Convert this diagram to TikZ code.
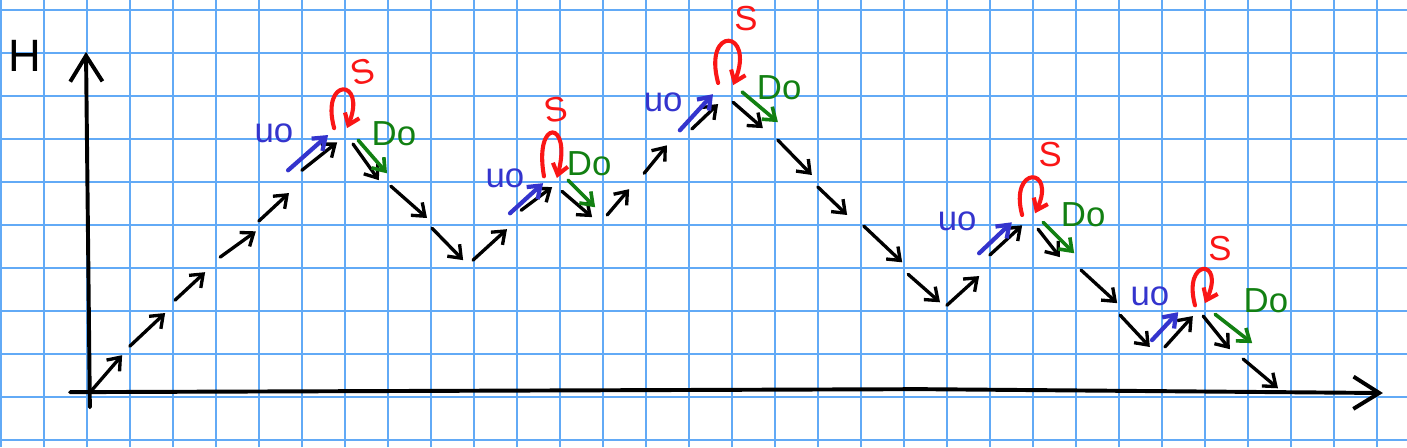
\documentclass[tikz,border=0pt]{standalone}
\usepackage{fontspec}
\setmainfont{Liberation Sans}
\usepackage{xcolor}
\usepackage{tikz}
\usetikzlibrary{arrows.meta}
\definecolor{gridblue}{RGB}{98,170,246}
\definecolor{inkblue}{RGB}{52,52,205}
\definecolor{inkred}{RGB}{250,22,22}
\definecolor{inkgreen}{RGB}{18,128,18}
\tikzset{
  gridline/.style={draw=gridblue,line width=1.1pt},
  axisline/.style={line width=2.6pt,line cap=round,-{Straight Barb[length=6mm,width=7.5mm]}},
  walk/.style={-{Straight Barb[length=2.6mm,width=4mm]},line width=2.2pt,line cap=round},
  handtext/.style={font=\fontsize{23}{25}\selectfont,inner sep=0pt}
}

\begin{document}
\begin{tikzpicture}[
  upmove/.style={-{Straight Barb[length=2.6mm,width=3.8mm]},line width=2.8pt,draw=inkblue,line cap=round},
  downmove/.style={-{Straight Barb[length=2.6mm,width=3.8mm]},line width=2.4pt,draw=inkgreen,line cap=round},
  stayloop/.style={-{Straight Barb[length=2.4mm,width=3.6mm]},line width=2.7pt,draw=inkred,line cap=round},
  ulabel/.style={handtext,text=inkblue},
  dlabel/.style={handtext,text=inkgreen},
  slabel/.style={handtext,text=inkred},
  axislabel/.style={font=\fontsize{30}{32}\selectfont,inner sep=0pt}
]

  \fill[white] (0,0) rectangle (32.72,10.40);
  \useasboundingbox (0,0) rectangle (32.72,10.40);

  % squared paper
  \draw[gridline,xshift=0.02cm,yshift=0.16cm] (-0.02,-0.16) grid (32.70,10.24);

  % axes
  \coordinate (yFoot) at (2.09,0.93);
  \coordinate (yTop)  at (2.00,9.19);
  \coordinate (xFoot) at (1.63,1.28);
  \coordinate (xMid)  at (21.40,1.35);
  \coordinate (xTip)  at (32.16,1.26);

  \draw[axisline] (yFoot)--(yTop);
  \draw[axisline] (xFoot)--(xMid)--(xTip);
  \node[axislabel] (hLabel) at (0.58,9.09) {H};

  % black walk
  \coordinate (a1)  at (2.14,1.33);  \coordinate (b1)  at (2.84,2.14);
  \coordinate (a2)  at (3.02,2.35);  \coordinate (b2)  at (3.84,3.12);
  \coordinate (a3)  at (4.07,3.42);  \coordinate (b3)  at (4.77,4.07);
  \coordinate (a4)  at (5.12,4.42);  \coordinate (b4)  at (5.95,5.02);
  \coordinate (a5)  at (6.02,5.26);  \coordinate (b5)  at (6.72,5.91);
  \coordinate (a6)  at (7.02,6.44);  \coordinate (b6)  at (7.84,7.09);
  \coordinate (a7)  at (8.21,7.05);  \coordinate (b7)  at (8.81,6.21);
  \coordinate (a8)  at (9.09,6.07);  \coordinate (b8)  at (9.93,5.33);
  \coordinate (a9)  at (10.05,5.09); \coordinate (b9)  at (10.77,4.35);
  \coordinate (a10) at (11.00,4.35); \coordinate (b10) at (11.79,5.07);
  \coordinate (a11) at (12.12,5.51); \coordinate (b11) at (12.84,6.05);
  \coordinate (a12) at (13.07,5.95); \coordinate (b12) at (13.77,5.35);
  \coordinate (a13) at (14.12,5.40); \coordinate (b13) at (14.63,6.00);
  \coordinate (a14) at (14.98,6.37); \coordinate (b14) at (15.51,7.02);
  \coordinate (a15) at (16.09,7.40); \coordinate (b15) at (16.70,7.98);
  \coordinate (a16) at (17.05,8.02); \coordinate (b16) at (17.74,7.42);
  \coordinate (a17) at (18.09,7.14); \coordinate (b17) at (18.88,6.33);
  \coordinate (a18) at (19.02,6.05); \coordinate (b18) at (19.70,5.40);
  \coordinate (a19) at (20.09,5.14); \coordinate (b19) at (20.98,4.30);
  \coordinate (a20) at (21.12,4.02); \coordinate (b20) at (21.86,3.37);
  \coordinate (a21) at (22.02,3.30); \coordinate (b21) at (22.77,3.98);
  \coordinate (a22) at (23.02,4.47); \coordinate (b22) at (23.77,5.16);
  \coordinate (a23) at (24.14,5.07); \coordinate (b23) at (24.65,4.42);
  \coordinate (a24) at (25.14,4.12); \coordinate (b24) at (25.98,3.35);
  \coordinate (a25) at (26.05,3.07); \coordinate (b25) at (26.74,2.33);
  \coordinate (a26) at (27.09,2.33); \coordinate (b26) at (27.74,3.05);
  \coordinate (a27) at (27.98,3.05); \coordinate (b27) at (28.60,2.28);
  \coordinate (a28) at (28.91,2.05); \coordinate (b28) at (29.72,1.37);

  \draw[walk] (a1)--(b1);   \draw[walk] (a2)--(b2);   \draw[walk] (a3)--(b3);
  \draw[walk] (a4)--(b4);   \draw[walk] (a5)--(b5);   \draw[walk] (a6)--(b6);
  \draw[walk] (a7)--(b7);   \draw[walk] (a8)--(b8);   \draw[walk] (a9)--(b9);
  \draw[walk] (a10)--(b10); \draw[walk] (a11)--(b11); \draw[walk] (a12)--(b12);
  \draw[walk] (a13)--(b13); \draw[walk] (a14)--(b14); \draw[walk] (a15)--(b15);
  \draw[walk] (a16)--(b16); \draw[walk] (a17)--(b17); \draw[walk] (a18)--(b18);
  \draw[walk] (a19)--(b19); \draw[walk] (a20)--(b20); \draw[walk] (a21)--(b21);
  \draw[walk] (a22)--(b22); \draw[walk] (a23)--(b23); \draw[walk] (a24)--(b24);
  \draw[walk] (a25)--(b25); \draw[walk] (a26)--(b26); \draw[walk] (a27)--(b27);
  \draw[walk] (a28)--(b28);

  % up moves
  \coordinate (uA1) at (6.70,6.44);  \coordinate (uB1) at (7.63,7.26);
  \coordinate (uA2) at (11.86,5.44); \coordinate (uB2) at (12.63,6.14);
  \coordinate (uA3) at (15.81,7.37); \coordinate (uB3) at (16.58,8.21);
  \coordinate (uA4) at (22.77,4.51); \coordinate (uB4) at (23.53,5.23);
  \coordinate (uA5) at (26.79,2.49); \coordinate (uB5) at (27.40,3.14);

  \draw[upmove] (uA1)--(uB1);
  \draw[upmove] (uA2)--(uB2);
  \draw[upmove] (uA3)--(uB3);
  \draw[upmove] (uA4)--(uB4);
  \draw[upmove] (uA5)--(uB5);

  \node[ulabel] (uOne)   at (6.37,7.30)  {uo};
  \node[ulabel] (uTwo)   at (11.74,6.26) {uo};
  \node[ulabel] (uThree) at (15.42,8.02) {uo};
  \node[ulabel] (uFour)  at (22.26,5.26) {uo};
  \node[ulabel] (uFive)  at (26.74,3.51) {uo};

  % stay loops
  \coordinate (sA1) at (7.77,7.42);  \coordinate (sB1) at (8.07,7.42);
  \coordinate (sA2) at (12.65,6.30); \coordinate (sB2) at (12.95,6.26);
  \coordinate (sA3) at (16.70,8.47); \coordinate (sB3) at (17.05,8.42);
  \coordinate (sA4) at (23.77,5.40); \coordinate (sB4) at (24.07,5.44);
  \coordinate (sA5) at (27.79,3.30); \coordinate (sB5) at (28.02,3.35);

  \draw[stayloop] (sA1) to[out=105,in=68,distance=1.25cm] (sB1);
  \draw[stayloop] (sA2) to[out=100,in=75,distance=1.4cm] (sB2);
  \draw[stayloop] (sA3) to[out=105,in=68,distance=1.4cm] (sB3);
  \draw[stayloop] (sA4) to[out=105,in=65,distance=1.2cm] (sB4);
  \draw[stayloop] (sA5) to[out=105,in=65,distance=1.15cm] (sB5);

  \node[slabel,rotate=15] (sOne) at (8.44,8.72) {S};
  \node[slabel,rotate=10] (sTwo) at (12.93,7.84) {S};
  \node[slabel] (sThree) at (17.35,9.98) {S};
  \node[slabel] (sFour)  at (24.42,6.81) {S};
  \node[slabel] (sFive)  at (28.37,4.63) {S};

  % down moves
  \coordinate (dA1) at (8.33,7.14);  \coordinate (dB1) at (9.00,6.37);
  \coordinate (dA2) at (13.21,6.21); \coordinate (dB2) at (13.84,5.58);
  \coordinate (dA3) at (17.26,8.26); \coordinate (dB3) at (18.09,7.56);
  \coordinate (dA4) at (24.26,5.23); \coordinate (dB4) at (24.98,4.51);
  \coordinate (dA5) at (28.26,3.09); \coordinate (dB5) at (29.12,2.42);

  \draw[downmove] (dA1)--(dB1);
  \draw[downmove] (dA2)--(dB2);
  \draw[downmove] (dA3)--(dB3);
  \draw[downmove] (dA4)--(dB4);
  \draw[downmove] (dA5)--(dB5);

  \node[dlabel] (dOne)   at (9.16,7.28)  {Do};
  \node[dlabel] (dTwo)   at (13.70,6.60) {Do};
  \node[dlabel] (dThree) at (18.12,8.37) {Do};
  \node[dlabel] (dFour)  at (25.19,5.40) {Do};
  \node[dlabel] (dFive)  at (29.44,3.40) {Do};

\end{tikzpicture}
\end{document}
